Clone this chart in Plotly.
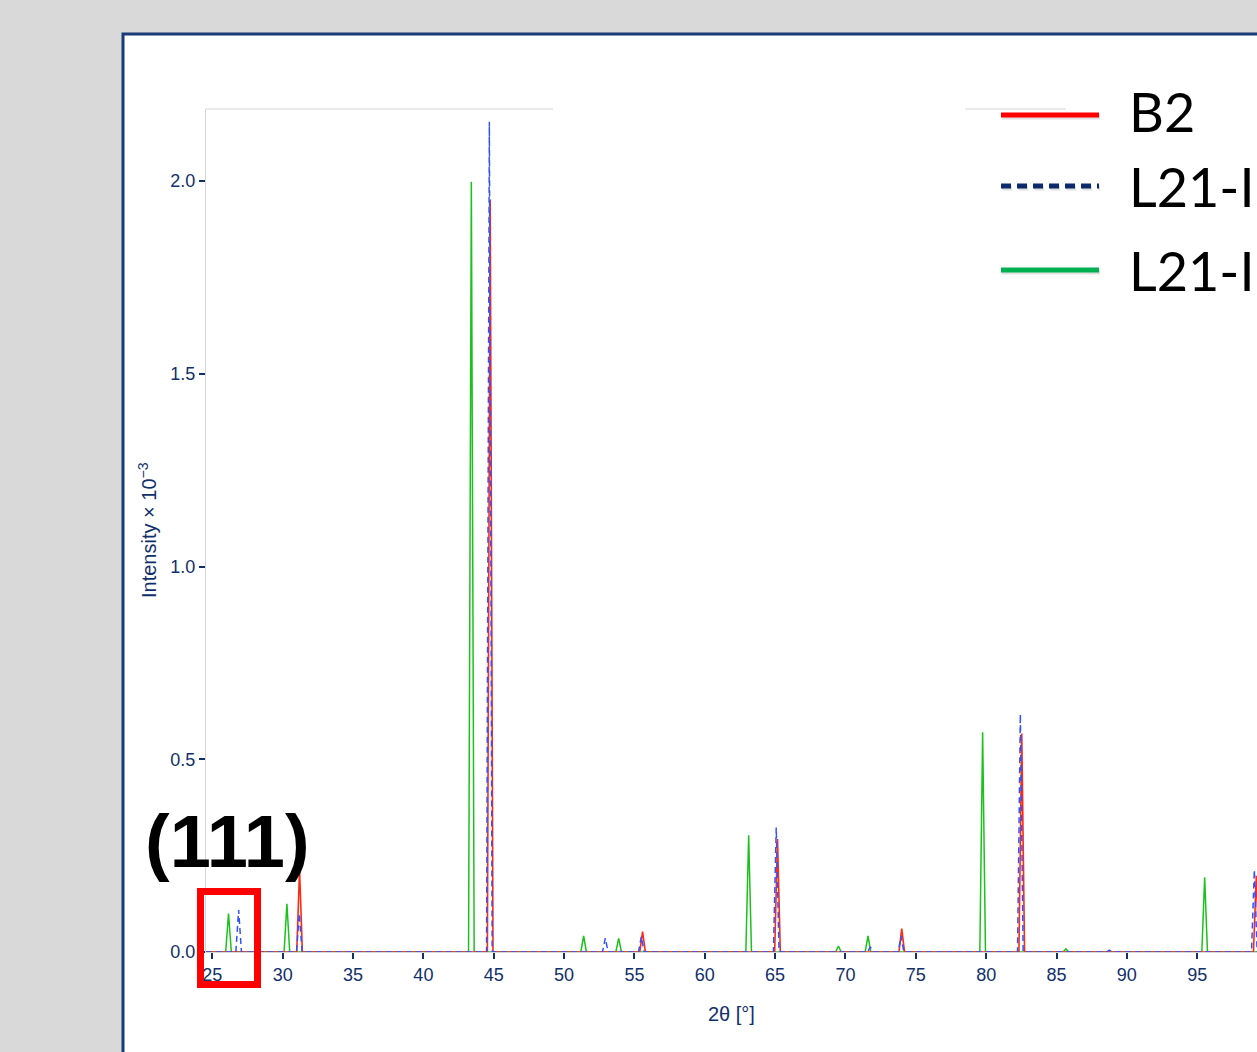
import plotly.graph_objects as go

# ---------------- data ----------------
b2_pos = [31.2, 44.75, 55.58, 65.17, 74.0, 82.53, 99.2]
b2_int = [0.213, 1.952, 0.053, 0.293, 0.061, 0.567, 0.198]

l21i_pos = [26.87, 31.18, 44.69, 52.93, 55.49, 65.08, 71.77, 73.95, 82.43, 88.75, 99.06]
l21i_int = [0.109, 0.100, 2.154, 0.036, 0.040, 0.323, 0.013, 0.0415, 0.617, 0.005, 0.213]

l21ii_pos = [26.15, 30.3, 43.41, 51.39, 53.88, 63.12, 69.5, 71.6, 79.75, 85.67, 95.53]
l21ii_int = [0.100, 0.125, 1.998, 0.0415, 0.0355, 0.303, 0.0156, 0.0415, 0.570, 0.008, 0.194]

x_ticks = [25, 30, 35, 40, 45, 50, 55, 60, 65, 70, 75, 80, 85, 90, 95]
y_ticks = [0.0, 0.5, 1.0, 1.5, 2.0]

series_names = ["B2", "L21-I", "L21-II"]

X_MIN, X_MAX = 24.55, 99.25
Y_MAX = 2.187
HALF_W = 0.2


def profile(pos, inten):
    xs, ys = [X_MIN], [0.0]
    for p, h in sorted(zip(pos, inten)):
        xs += [p - HALF_W, p, p + HALF_W]
        ys += [0.0, h, 0.0]
    xs.append(X_MAX + 1)
    ys.append(0.0)
    return xs, ys


NAVY = "#10306a"
fig = go.Figure()

gx, gy = profile(l21ii_pos, l21ii_int)
fig.add_trace(go.Scatter(x=gx, y=gy, mode="lines", name=series_names[2],
                         line=dict(color="#1cc21c", width=1.5)))
rx, ry = profile(b2_pos, b2_int)
fig.add_trace(go.Scatter(x=rx, y=ry, mode="lines", name=series_names[0],
                         line=dict(color="#ff2a14", width=1.6)))
bx, by = profile(l21i_pos, l21i_int)
fig.add_trace(go.Scatter(x=bx, y=by, mode="lines", name=series_names[1],
                         line=dict(color="#3352ff", width=1.5, dash="6px,4px")))

# plot area in pixels: x 206..1257, y 109..952
PL, PR, PT, PB = 206, 1257, 109, 952


def pxx(px):
    return (px - PL) / (PR - PL)


def pxy(py):
    return (PB - py) / (PB - PT)


shapes = []
# slide frame (white page with navy border)
shapes.append(dict(type="rect", xref="paper", yref="paper", layer="below",
                   x0=pxx(123), x1=pxx(1300), y0=pxy(1100), y1=pxy(34),
                   fillcolor="white", line=dict(color="#1b3a78", width=3)))
# fragments of the top plot border
shapes.append(dict(type="line", xref="paper", yref="paper",
                   x0=pxx(206), x1=pxx(553), y0=pxy(109), y1=pxy(109),
                   line=dict(color="#d6d6d6", width=1)))
shapes.append(dict(type="line", xref="paper", yref="paper",
                   x0=pxx(965), x1=pxx(1066), y0=pxy(109), y1=pxy(109),
                   line=dict(color="#d6d6d6", width=1)))
# legend lines
leg_cols = ["#ff0000", "#0b2a6e", "#00b050"]
leg_y = [115, 186, 270]
leg_dash = ["solid", "10px,6px", "solid"]
for c, yy, d in zip(leg_cols, leg_y, leg_dash):
    shapes.append(dict(type="line", xref="paper", yref="paper",
                       x0=pxx(1002), x1=pxx(1100), y0=pxy(yy + 2), y1=pxy(yy + 2),
                       line=dict(color="rgba(0,0,0,0.12)", width=5, dash=d)))
    shapes.append(dict(type="line", xref="paper", yref="paper",
                       x0=pxx(1001), x1=pxx(1099), y0=pxy(yy), y1=pxy(yy),
                       line=dict(color=c, width=5, dash=d)))
# red highlight box
shapes.append(dict(type="rect", xref="paper", yref="paper",
                   x0=pxx(200.5), x1=pxx(257.5), y0=pxy(984.5), y1=pxy(891.5),
                   line=dict(color="#ff0000", width=7)))

annotations = []
leg_text_y = [112, 186, 270]
for name, yy in zip(series_names, leg_text_y):
    annotations.append(dict(text=name, xref="paper", yref="paper",
                            x=pxx(1127), y=pxy(yy), xanchor="left", yanchor="middle",
                            showarrow=False,
                            font=dict(family="Lato", size=54, color="black")))
annotations.append(dict(text="<b>(111)</b>", xref="paper", yref="paper",
                        x=pxx(227), y=pxy(841), xanchor="center", yanchor="middle",
                        showarrow=False,
                        font=dict(family="Liberation Sans", size=74, color="black")))
annotations.append(dict(text="2θ [°]", xref="paper", yref="paper",
                        x=pxx(731), y=pxy(1014), xanchor="center", yanchor="middle",
                        showarrow=False,
                        font=dict(family="Liberation Sans", size=20, color=NAVY)))
annotations.append(dict(text="Intensity × 10<sup>−3</sup>", xref="paper", yref="paper",
                        x=pxx(147), y=pxy(530), xanchor="center", yanchor="middle",
                        textangle=-90, showarrow=False,
                        font=dict(family="Liberation Sans", size=20, color=NAVY)))

fig.update_layout(
    template="none",
    width=1257, height=1052,
    margin=dict(l=PL, r=1257 - PR, t=PT, b=1052 - PB, pad=0),
    paper_bgcolor="#d9d9d9",
    plot_bgcolor="rgba(0,0,0,0)",
    showlegend=False,
    shapes=shapes,
    annotations=annotations,
    xaxis=dict(range=[X_MIN, X_MAX], tickvals=x_ticks, ticktext=[str(v) for v in x_ticks],
               showgrid=False, zeroline=False, showline=True, linecolor="#d6d6d6", linewidth=1,
               ticks="outside", ticklen=6, tickwidth=1.5, tickcolor=NAVY, automargin=False,
               tickfont=dict(family="Liberation Sans", size=18, color=NAVY)),
    yaxis=dict(range=[0, Y_MAX], tickvals=y_ticks, ticktext=[f"{v:.1f}" for v in y_ticks],
               showgrid=False, zeroline=False, showline=True, linecolor="#d6d6d6", linewidth=1,
               ticks="outside", ticklen=6, tickwidth=1.5, tickcolor=NAVY, automargin=False,
               tickfont=dict(family="Liberation Sans", size=18, color=NAVY)),
)

fig.write_html("out.html", config={"displayModeBar": False},
               post_script="document.body.style.margin='0';document.body.style.overflow='hidden';")
